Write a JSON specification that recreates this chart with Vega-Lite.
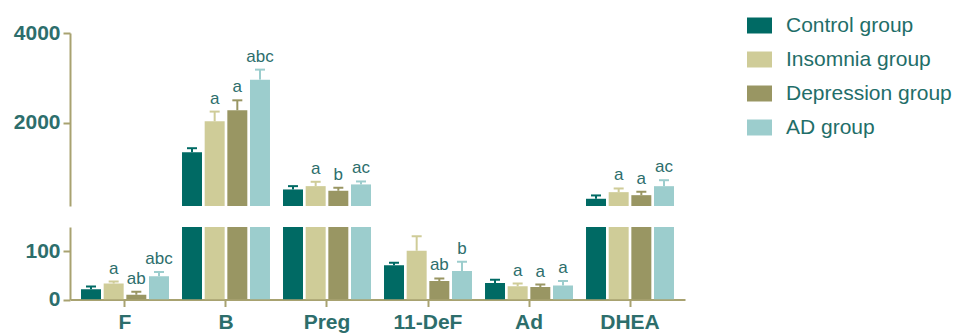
{
  "$schema": "https://vega.github.io/schema/vega-lite/v6.json",
  "padding": {"left": 13, "top": 13, "right": 0, "bottom": 0},
  "background": "white",
  "config": {
    "font": "Liberation Sans",
    "view": {"stroke": null},
    "axis": {"grid": false, "domainColor": "#a8a270", "domainWidth": 2, "tickColor": "#a8a270", "tickWidth": 2, "tickSize": 7, "labelFont": "Liberation Sans", "labelFontSize": 21, "labelFontWeight": "bold", "labelColor": "#2d6e6c", "title": null}
  },
  "data": {"values": [
    {"cat": "F", "group": "Control group", "mean": 21, "hi": 27, "sig": ""},
    {"cat": "F", "group": "Insomnia group", "mean": 33, "hi": 37, "sig": "a"},
    {"cat": "F", "group": "Depression group", "mean": 10, "hi": 16, "sig": "ab"},
    {"cat": "F", "group": "AD group", "mean": 48, "hi": 57, "sig": "abc"},
    {"cat": "B", "group": "Control group", "mean": 1347, "hi": 1436, "sig": ""},
    {"cat": "B", "group": "Insomnia group", "mean": 2036, "hi": 2251, "sig": "a"},
    {"cat": "B", "group": "Depression group", "mean": 2280, "hi": 2502, "sig": "a"},
    {"cat": "B", "group": "AD group", "mean": 2962, "hi": 3185, "sig": "abc"},
    {"cat": "Preg", "group": "Control group", "mean": 518, "hi": 592, "sig": ""},
    {"cat": "Preg", "group": "Insomnia group", "mean": 592, "hi": 689, "sig": "a"},
    {"cat": "Preg", "group": "Depression group", "mean": 489, "hi": 556, "sig": "b"},
    {"cat": "Preg", "group": "AD group", "mean": 630, "hi": 696, "sig": "ac"},
    {"cat": "11-DeF", "group": "Control group", "mean": 71, "hi": 76, "sig": ""},
    {"cat": "11-DeF", "group": "Insomnia group", "mean": 101, "hi": 131, "sig": ""},
    {"cat": "11-DeF", "group": "Depression group", "mean": 38.5, "hi": 43.5, "sig": "ab"},
    {"cat": "11-DeF", "group": "AD group", "mean": 59, "hi": 78, "sig": "b"},
    {"cat": "Ad", "group": "Control group", "mean": 34, "hi": 41, "sig": ""},
    {"cat": "Ad", "group": "Insomnia group", "mean": 27.5, "hi": 33, "sig": "a"},
    {"cat": "Ad", "group": "Depression group", "mean": 26, "hi": 31, "sig": "a"},
    {"cat": "Ad", "group": "AD group", "mean": 29, "hi": 38.5, "sig": "a"},
    {"cat": "DHEA", "group": "Control group", "mean": 311, "hi": 385, "sig": ""},
    {"cat": "DHEA", "group": "Insomnia group", "mean": 458, "hi": 540, "sig": "a"},
    {"cat": "DHEA", "group": "Depression group", "mean": 391, "hi": 467, "sig": "a"},
    {"cat": "DHEA", "group": "AD group", "mean": 591, "hi": 724, "sig": "ac"}
  ]},
  "resolve": {"scale": {"y": "independent", "x": "shared", "color": "shared"}},
  "spacing": 21,
  "vconcat": [
    {
      "width": 615,
      "height": 173,
      "encoding": {
        "x": {"field": "cat", "type": "nominal", "sort": ["F", "B", "Preg", "11-DeF", "Ad", "DHEA"], "scale": {"paddingInner": 0.129, "paddingOuter": 0.109}, "axis": null},
        "xOffset": {"field": "group", "type": "nominal", "sort": ["Control group", "Insomnia group", "Depression group", "AD group"], "scale": {"paddingInner": 0.118, "paddingOuter": 0}},
        "color": {"field": "group", "type": "nominal", "sort": ["Control group", "Insomnia group", "Depression group", "AD group"],
          "scale": {"domain": ["Control group", "Insomnia group", "Depression group", "AD group"], "range": ["#006a64", "#cfcc98", "#999663", "#9ccdcd"]},
          "legend": {"title": null, "orient": "none", "legendX": 677, "legendY": -20, "padding": 0, "symbolType": "M-1,-0.64H1V0.64H-1Z", "symbolSize": 625, "symbolStrokeWidth": 0, "symbolOpacity": 1, "labelFontSize": 21, "labelColor": "#1f6e69", "labelFont": "Liberation Sans", "labelOffset": 14, "labelLimit": 400, "rowPadding": 11}}
      },
      "layer": [
        {"mark": {"type": "bar", "clip": true, "opacity": 1},
         "encoding": {"y": {"field": "mean", "type": "quantitative", "scale": {"domain": [150, 4000], "nice": false, "zero": false},
           "axis": {"values": [2000, 4000], "format": "d", "labelPadding": 3}}}},
        {"transform": [{"filter": "datum.hi >= 150"}],
         "mark": {"type": "rule", "clip": true, "strokeWidth": 2, "opacity": 1},
         "encoding": {"y": {"field": "mean", "type": "quantitative"}, "y2": {"field": "hi"}}},
        {"transform": [{"filter": "datum.hi >= 150"}],
         "mark": {"type": "tick", "clip": true, "thickness": 2, "size": 10, "opacity": 1},
         "encoding": {"y": {"field": "hi", "type": "quantitative"}}},
        {"transform": [{"filter": "datum.hi >= 150"}],
         "mark": {"type": "text", "clip": true, "baseline": "alphabetic", "dy": -8, "fontSize": 17},
         "encoding": {"y": {"field": "hi", "type": "quantitative"}, "text": {"field": "sig"}, "color": {"value": "#2d6e6c"}}}
      ]
    },
    {
      "width": 615,
      "height": 72.5,
      "encoding": {
        "x": {"field": "cat", "type": "nominal", "sort": ["F", "B", "Preg", "11-DeF", "Ad", "DHEA"], "scale": {"paddingInner": 0.129, "paddingOuter": 0.109},
          "axis": {"labelAngle": 0, "labelPadding": 5}},
        "xOffset": {"field": "group", "type": "nominal", "sort": ["Control group", "Insomnia group", "Depression group", "AD group"], "scale": {"paddingInner": 0.118, "paddingOuter": 0}},
        "color": {"field": "group", "type": "nominal", "sort": ["Control group", "Insomnia group", "Depression group", "AD group"]}
      },
      "layer": [
        {"mark": {"type": "bar", "clip": true, "opacity": 1},
         "encoding": {"y": {"field": "mean", "type": "quantitative", "scale": {"domain": [0, 150], "nice": false},
           "axis": {"values": [0, 100], "format": "d", "labelPadding": 3}}}},
        {"mark": {"type": "rule", "clip": true, "strokeWidth": 2, "opacity": 1},
         "encoding": {"y": {"field": "mean", "type": "quantitative"}, "y2": {"field": "hi"}}},
        {"mark": {"type": "tick", "clip": true, "thickness": 2, "size": 10, "opacity": 1},
         "encoding": {"y": {"field": "hi", "type": "quantitative"}}},
        {"transform": [{"filter": "datum.hi < 150"}],
         "mark": {"type": "text", "clip": true, "baseline": "alphabetic", "dy": -8, "fontSize": 17},
         "encoding": {"y": {"field": "hi", "type": "quantitative"}, "text": {"field": "sig"}, "color": {"value": "#2d6e6c"}}}
      ]
    }
  ]
}
